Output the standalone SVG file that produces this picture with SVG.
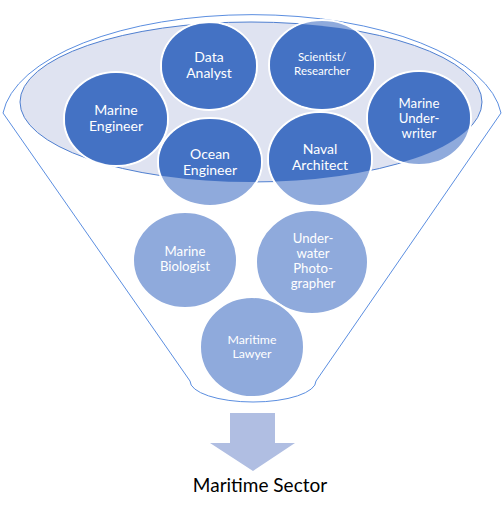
<svg xmlns="http://www.w3.org/2000/svg" width="504" height="512" viewBox="0 0 504 512">
<defs>
<style>
.outline{fill:none;stroke:#5b8ee0;stroke-width:1}
.rim{fill:#dfe3f1;stroke:#4f7fd0;stroke-width:1}
.lt{fill:#8faadc;stroke:#fff;stroke-width:2}
.dk{fill:#4472c4;stroke:none}
.t{font-family:Lato,"Open Sans","Liberation Sans",sans-serif;fill:#fff;text-anchor:middle}
.l{font-family:Lato,"Open Sans","Liberation Sans",sans-serif;fill:#000;text-anchor:middle}
</style>
<clipPath id="rimclip"><ellipse cx="251" cy="102" rx="231" ry="80"/></clipPath>
</defs>
<g id="funnel">
<path class="outline" d="M 190 381 L 3 113 A 250 108 0 0 1 501 113 L 316 381 A 63 21 0 0 1 190 381 Z"/>
<ellipse class="rim" cx="251" cy="102" rx="231" ry="80"/>
</g>
<g id="n-data-analyst">
<ellipse class="lt" cx="209" cy="66" rx="48" ry="44"/>
<ellipse class="dk" cx="209" cy="66" rx="47" ry="43" clip-path="url(#rimclip)"/>
<text class="t" font-size="14"><tspan x="209" y="62">Data</tspan><tspan x="209" y="78">Analyst</tspan></text>
</g>
<g id="n-scientist">
<ellipse class="lt" cx="322" cy="65" rx="53" ry="45"/>
<ellipse class="dk" cx="322" cy="65" rx="52" ry="44" clip-path="url(#rimclip)"/>
<text class="t" font-size="11.5"><tspan x="322" y="61">Scientist/</tspan><tspan x="322" y="75">Researcher</tspan></text>
</g>
<g id="n-marine-engineer">
<ellipse class="lt" cx="116" cy="119" rx="52" ry="47"/>
<ellipse class="dk" cx="116" cy="119" rx="51" ry="46" clip-path="url(#rimclip)"/>
<text class="t" font-size="14"><tspan x="116" y="115">Marine</tspan><tspan x="116" y="131">Engineer</tspan></text>
</g>
<g id="n-ocean-engineer">
<ellipse class="lt" cx="210" cy="162" rx="52" ry="44"/>
<ellipse class="dk" cx="210" cy="162" rx="51" ry="43" clip-path="url(#rimclip)"/>
<text class="t" font-size="14"><tspan x="210" y="159">Ocean</tspan><tspan x="210" y="175">Engineer</tspan></text>
</g>
<g id="n-naval-architect">
<ellipse class="lt" cx="320" cy="159" rx="52" ry="47"/>
<ellipse class="dk" cx="320" cy="159" rx="51" ry="46" clip-path="url(#rimclip)"/>
<text class="t" font-size="14"><tspan x="320" y="154">Naval</tspan><tspan x="320" y="170">Architect</tspan></text>
</g>
<g id="n-marine-underwriter">
<ellipse class="lt" cx="419" cy="118" rx="52" ry="47"/>
<ellipse class="dk" cx="419" cy="118" rx="51" ry="46" clip-path="url(#rimclip)"/>
<text class="t" font-size="13.2"><tspan x="419" y="108">Marine</tspan><tspan x="419" y="123">Under-</tspan><tspan x="419" y="138">writer</tspan></text>
</g>
<g id="n-marine-biologist">
<ellipse class="lt" cx="185" cy="260" rx="52" ry="48"/>
<text class="t" font-size="13.2"><tspan x="185" y="256">Marine</tspan><tspan x="185" y="271">Biologist</tspan></text>
</g>
<g id="n-underwater-photographer">
<ellipse class="lt" cx="312" cy="262" rx="56" ry="52"/>
<text class="t" font-size="13.2"><tspan x="313" y="243">Under-</tspan><tspan x="313" y="258">water</tspan><tspan x="313" y="273">Photo-</tspan><tspan x="313" y="288">grapher</tspan></text>
</g>
<g id="n-maritime-lawyer">
<ellipse class="lt" cx="252" cy="347" rx="52" ry="50"/>
<text class="t" font-size="12.3"><tspan x="252" y="344">Maritime</tspan><tspan x="252" y="358">Lawyer</tspan></text>
</g>
<g id="connectors">
<path d="M 230 413 L 275 413 L 275 443 L 295 443 L 253 471 L 210 443 L 230 443 Z" fill="#b0bee2"/>
</g>
<g id="label">
<text class="l" x="260" y="492" font-size="19">Maritime Sector</text>
</g>
</svg>
